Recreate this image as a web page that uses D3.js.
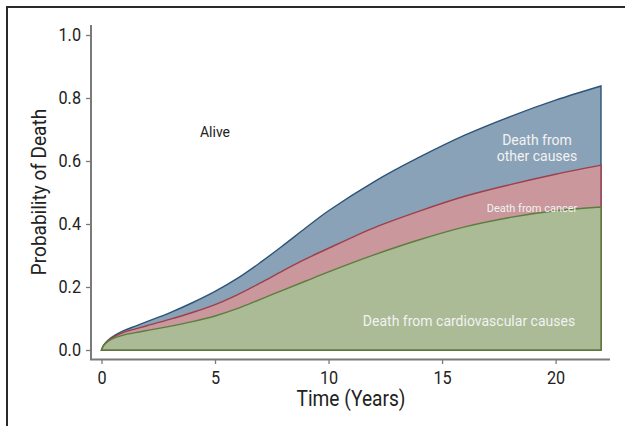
<!DOCTYPE html>
<html>
<head>
<meta charset="utf-8">
<script src="https://cdn.jsdelivr.net/npm/d3@7"></script>
<style>
	body { margin: 0; background: #fff; }
	text { font-family: Roboto, "Noto Sans", sans-serif; }
</style>
</head>
<body>
<svg id="chart" width="625" height="426"></svg>
<script>
// time points (years)
var years = [0, 0.1, 0.3, 0.6, 1, 1.5, 2, 3, 4, 5, 6, 7, 8, 9, 10, 12, 14, 16, 18, 20, 22];
// probability of death by cause
var cardiovascular = [0, .014, .028, .039, .048, .055, .062, .075, .090, .108, .132, .161, .190, .219, .248, .302, .350, .391, .421, .442, .454];
var cancer = [0, .001, .003, .005, .009, .012, .015, .022, .029, .036, .044, .052, .062, .070, .075, .086, .091, .097, .104, .116, .133];
var other = [0, .001, .001, .003, .005, .009, .013, .021, .031, .042, .052, .065, .080, .099, .119, .146, .171, .194, .216, .235, .251];

var xTicks = [0, 5, 10, 15, 20];
var yTicks = [0, 0.2, 0.4, 0.6, 0.8, 1.0];

var causes = ['cardiovascular', 'cancer', 'other'];
var fills = { cardiovascular: '#aabb96', cancer: '#c9979c', other: '#8aa2b8' };
var strokes = { cardiovascular: '#5a7f3c', cancer: '#9e3f4b', other: '#2c5479' };

var rows = years.map(function(t, i) {
	return { t: t, cardiovascular: cardiovascular[i], cancer: cancer[i], other: other[i] };
});

// squeeze text horizontally, the original uses a condensed face
function condense(sel, k) {
	sel.each(function() {
		var w = this.getComputedTextLength();
		d3.select(this).attr('textLength', w * k).attr('lengthAdjust', 'spacingAndGlyphs');
	});
}

var svg = d3.select('#chart');

// outer frame (runs off the right and bottom of the picture)
svg.append('rect')
	.attr('x', 7).attr('y', 7)
	.attr('width', 700).attr('height', 500)
	.attr('fill', 'none')
	.attr('stroke', '#2a2a2a')
	.attr('stroke-width', 2);

var x = d3.scaleLinear().domain([0, 22]).range([101.5, 601]);
var y = d3.scaleLinear().domain([0, 1]).range([350, 35]);

var stack = d3.stack().keys(causes);
var layers = stack(rows);

// draw from the top band down, each filled to zero, so outlines overlap like the original
var area = d3.area()
	.curve(d3.curveCatmullRom.alpha(0.5))
	.x(function(d) { return x(d.data.t); })
	.y0(function() { return y(0); })
	.y1(function(d) { return y(d[1]); });

svg.append('g').selectAll('path')
	.data(layers.slice().reverse())
	.enter().append('path')
	.attr('d', area)
	.attr('fill', function(d) { return fills[d.key]; })
	.attr('stroke', function(d) { return strokes[d.key]; })
	.attr('stroke-width', 1.4)
	.attr('stroke-linejoin', 'miter');

// axes
var axisColor = '#7a7a7a';
var yAxis = svg.append('g').attr('transform', 'translate(91,0)')
	.call(d3.axisLeft(y).tickValues(yTicks).tickFormat(d3.format('.1f')).tickSize(5).tickPadding(5));
var xAxis = svg.append('g').attr('transform', 'translate(0,359)')
	.call(d3.axisBottom(x).tickValues(xTicks).tickSize(5).tickPadding(7));

[yAxis, xAxis].forEach(function(a) {
	a.select('.domain').remove();
	a.selectAll('line').attr('stroke', axisColor).attr('stroke-width', 1.3);
	a.selectAll('text').attr('fill', '#222').style('font-size', '18px').attr('font-family', 'Roboto')
		.call(condense, 0.9);
});

svg.append('path')
	.attr('d', 'M91,25V359.5H610')
	.attr('fill', 'none')
	.attr('stroke', axisColor)
	.attr('stroke-width', 2);

// axis titles
svg.append('text')
	.attr('transform', 'translate(46,192) rotate(-90)')
	.attr('text-anchor', 'middle')
	.attr('fill', '#222')
	.style('font-size', '20px')
	.text('Probability of Death')
	.call(condense, 0.95);

svg.append('text')
	.attr('x', 351).attr('y', 406)
	.attr('text-anchor', 'middle')
	.attr('fill', '#222')
	.style('font-size', '22px')
	.text('Time (Years)')
	.call(condense, 0.87);

// band labels
svg.append('text')
	.attr('x', 215).attr('y', 137)
	.attr('text-anchor', 'middle')
	.attr('fill', '#222')
	.style('font-size', '14px')
	.text('Alive');

var lab = svg.append('g').attr('fill', '#f2f2f2').attr('text-anchor', 'middle');
lab.append('text').attr('x', 537).attr('y', 145).style('font-size', '14px').text('Death from');
lab.append('text').attr('x', 537).attr('y', 161).style('font-size', '14px').text('other causes');
lab.append('text').attr('x', 532).attr('y', 212).style('font-size', '11px').text('Death from cancer');
lab.append('text').attr('x', 469).attr('y', 326).style('font-size', '14px').text('Death from cardiovascular causes');
</script>
</body>
</html>
